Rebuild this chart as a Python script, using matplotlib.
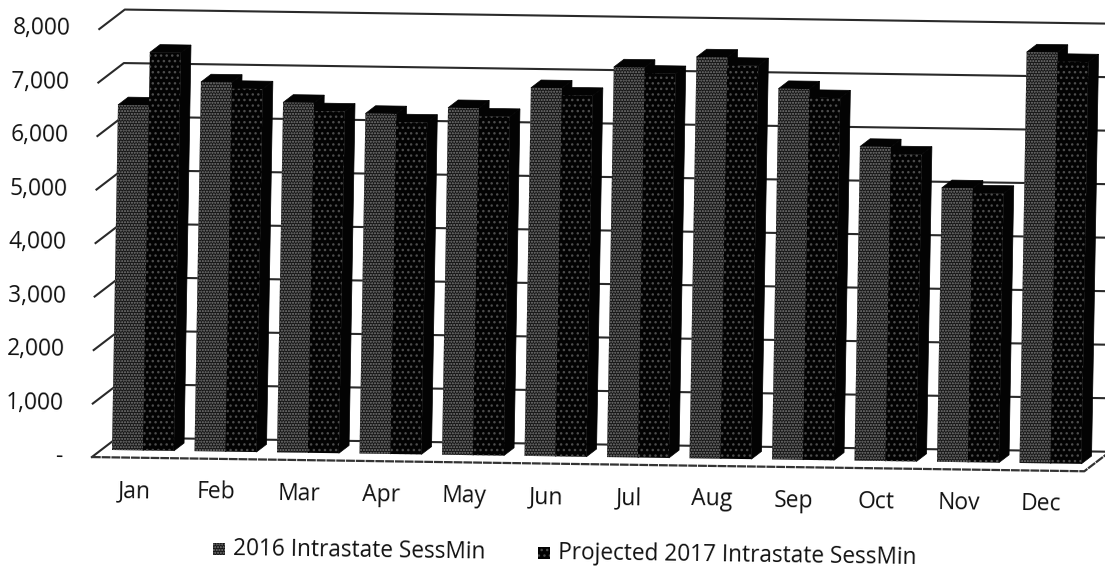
import matplotlib
matplotlib.use("Agg")
import matplotlib.pyplot as plt
from matplotlib.patches import Polygon

plt.rcParams['font.family'] = ['Open Sans', 'DejaVu Sans']

months = ["Jan", "Feb", "Mar", "Apr", "May", "Jun", "Jul", "Aug", "Sep", "Oct", "Nov", "Dec"]
sess2016 = [6450, 6900, 6540, 6355, 6485, 6880, 7290, 7500, 6930, 5870, 5120, 7680]
sess2017 = [7440, 6785, 6390, 6205, 6335, 6750, 7180, 7350, 6770, 5740, 5030, 7510]
ticks = [0, 1000, 2000, 3000, 4000, 5000, 6000, 7000, 8000]
tick_labels = ["-", "1,000", "2,000", "3,000", "4,000", "5,000", "6,000", "7,000", "8,000"]
legend_labels = ["2016 Intrastate SessMin", "Projected 2017 Intrastate SessMin"]

# pseudo 3d layout in pixels
pitch = 82.5
barw = 0.375
bar_depth = 0.4
floor_l, floor_r = -0.13, 11.9
wall_d = 0.63
front_d = -0.37
tilt = -0.8


def project(m, v, d=0.0):
    x = 112 + pitch * m + 0.00093 * v + 25.5 * d
    y = 450 + 1.18 * m - 0.0535 * v - 19.5 * d
    return x, y


def bar(ax, m, w, v, hatch, face, dots):
    a = project(m, 0)
    b = project(m + w, 0)
    c = project(m + w, v)
    e = project(m, v)
    # black side and top faces
    side = [b, c, project(m + w, v, bar_depth), project(m + w, 0, bar_depth)]
    top = [e, c, project(m + w, v, bar_depth), project(m, v, bar_depth)]
    ax.add_patch(Polygon(side, fc='#030303', ec='#030303', lw=0.5, zorder=3))
    ax.add_patch(Polygon(top, fc='#030303', ec='#030303', lw=0.5, zorder=3))
    ax.add_patch(Polygon([a, b, c, e], fc=face, ec=dots, lw=0, hatch=hatch, zorder=3))


fig = plt.figure(figsize=(11.05, 5.69), dpi=100)
ax = fig.add_axes([0, 0, 1, 1])
ax.set_xlim(0, 1105)
ax.set_ylim(569, 0)
ax.axis('off')

# gridlines: side wall then back wall
for t, lab in zip(ticks, tick_labels):
    p0 = project(floor_l, t, front_d)
    p1 = project(floor_l, t, wall_d)
    p2 = project(floor_r, t, wall_d)
    ax.plot([p0[0], p1[0], p2[0]], [p0[1], p1[1], p2[1]], color='#2a2a2a', lw=1.5, zorder=1)
    ax.text(p0[0] - 29, p0[1], lab, ha='right', va='center', fontsize=16.4,
            color='#111111', rotation=tilt, rotation_mode='anchor')

# floor outline
corners = [project(floor_l, 0, front_d), project(floor_r, 0, front_d), project(floor_r, 0, wall_d)]
ax.plot([c[0] for c in corners], [c[1] for c in corners], color='#333333', lw=1.6, ls=(0, (4, 0.4)), zorder=2)

for i in range(len(months)):
    bar(ax, i, barw, sess2016[i], '.' * 6, '#161616', '#7c7c7c')
    bar(ax, i + barw, barw, sess2017[i], '.' * 3, '#030303', '#4c4c4c')
    p = project(i + barw, 0)
    ax.text(p[0] - 9, p[1] + 41, months[i], ha='center', va='center', fontsize=16.5,
            color='#111111', rotation=tilt, rotation_mode='anchor')

# legend keys and text
keys = [(219, 549, '#161616', '#7c7c7c', '.' * 6), (544, 553, '#030303', '#4c4c4c', '.' * 3)]
for (kx, ky, face, dots, hatch), lab in zip(keys, legend_labels):
    ax.add_patch(Polygon([(kx - 6, ky - 6), (kx + 6, ky - 6), (kx + 6, ky + 6), (kx - 6, ky + 6)],
                         fc=face, ec=dots, lw=0, hatch=hatch))
    ax.text(kx + 14, ky, lab, ha='left', va='center', fontsize=16.3,
            color='#111111', rotation=tilt, rotation_mode='anchor')

fig.savefig("out.png", dpi=100)
